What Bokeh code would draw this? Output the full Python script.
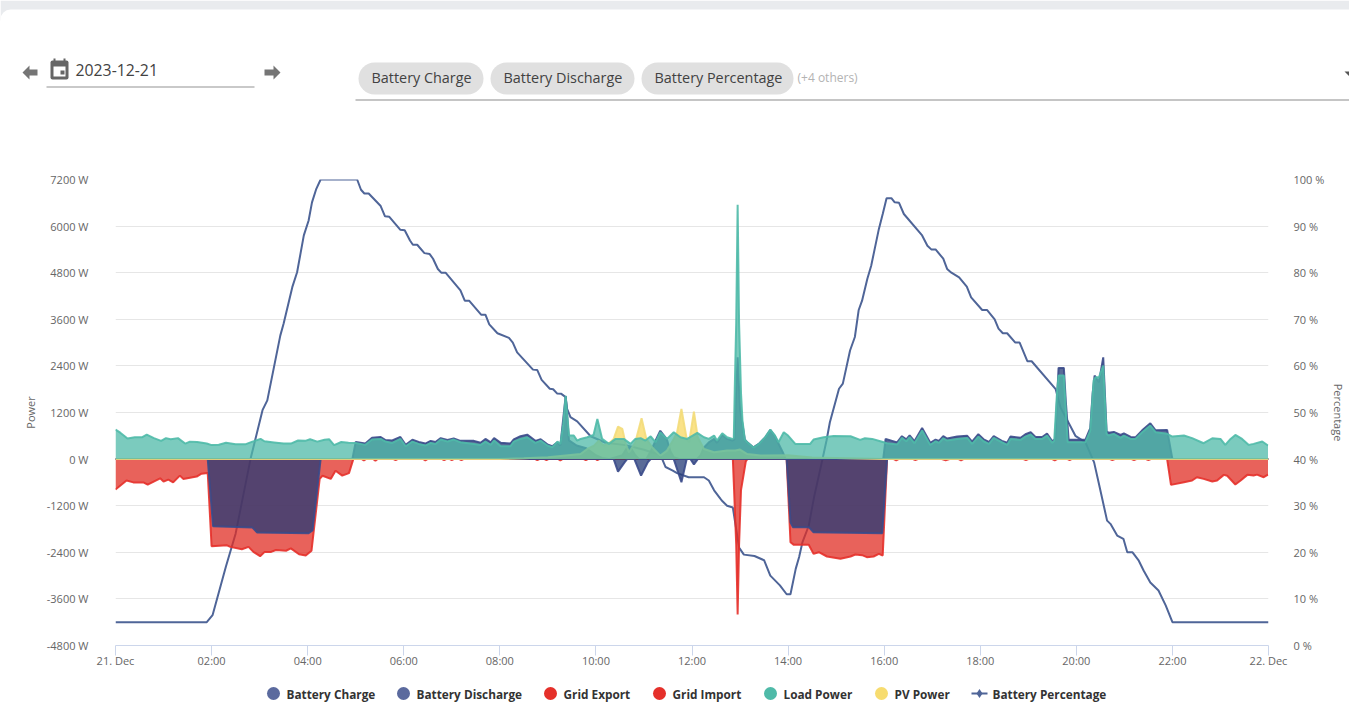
from bokeh.plotting import figure
from bokeh.layouts import column
from bokeh.models import (Range1d, LinearAxis, FixedTicker, BoxAnnotation, PolyAnnotation, Label)
from bokeh.embed import file_html
from bokeh.resources import INLINE

# ---------- data (hours since midnight, W / %) ----------
pct_t = [0, 1.9, 2.02, 2.3, 2.5, 2.81, 3.06, 3.16, 3.43, 3.5, 3.68, 3.78, 3.92, 4.02, 4.09, 4.18, 4.27, 5.03, 5.11, 5.18, 5.27, 5.52, 5.61, 5.7, 5.93, 6.02, 6.13, 6.19, 6.28, 6.43, 6.54, 6.61, 6.71, 6.78, 6.87, 7.18, 7.27, 7.36, 7.61, 7.7, 7.78, 7.95, 8.19, 8.27, 8.36, 8.69, 8.78, 8.87, 9.04, 9.11, 9.19, 9.28, 9.37, 9.4, 9.47, 9.61, 9.89, 10.2, 10.62, 11.0, 11.3, 11.38, 11.45, 11.59, 11.69, 11.93, 12.25, 12.35, 12.46, 12.59, 12.63, 12.73, 12.85, 12.98, 13.08, 13.3, 13.5, 13.63, 13.83, 13.97, 14.05, 14.16, 14.23, 14.3, 14.43, 14.54, 14.71, 14.8, 14.87, 15.06, 15.14, 15.29, 15.39, 15.47, 15.54, 15.65, 15.73, 15.89, 15.97, 16.05, 16.15, 16.22, 16.31, 16.41, 16.79, 16.9, 16.98, 17.07, 17.23, 17.31, 17.4, 17.56, 17.72, 17.81, 18.04, 18.14, 18.3, 18.38, 18.47, 18.56, 18.73, 18.82, 18.98, 19.07, 19.57, 19.67, 19.88, 19.98, 20.19, 20.37, 20.47, 20.64, 20.71, 20.85, 20.98, 21.06, 21.17, 21.3, 21.4, 21.54, 21.71, 21.86, 22.0, 24]
pct_v = [5, 5, 6.5, 17, 24, 40, 50.5, 52.6, 66.5, 69.1, 76.9, 80.1, 88, 91.2, 95.1, 98, 100, 100, 97.8, 97, 97, 94.3, 92.1, 92, 89.2, 89.1, 86.9, 86, 86, 84.2, 84, 83, 80.8, 80, 80, 76.2, 74, 74, 71, 71, 68.9, 67, 66, 65, 62.9, 59.2, 59.1, 57, 55.1, 55, 54.1, 54, 53.3, 50.8, 49, 48.1, 44.9, 43.5, 43, 42, 41, 40, 38.3, 37.6, 37, 36.1, 36.1, 35.4, 33.3, 31.5, 31, 30, 29.6, 21, 19.5, 19.2, 18.3, 15, 12.9, 11, 11, 16.5, 19, 22.2, 25.7, 31.8, 39.7, 44, 47.9, 55.1, 56.2, 63.3, 66.2, 72, 74, 78.7, 81.5, 89.4, 92.6, 96, 96, 95.1, 95, 92.6, 88, 85.8, 85, 85, 83, 80.8, 80, 79, 77, 74.7, 72, 72, 70, 68, 67, 67, 65, 65, 61, 61, 55, 51.1, 47, 45, 43.6, 39.3, 34.7, 26.8, 26.1, 23.6, 22.9, 20, 20, 18.2, 16.1, 13.5, 11.8, 8.6, 5, 5]

charge_t = [0, 1.92, 2.03, 2.85, 2.95, 4.02, 4.1, 4.27, 10.37, 10.46, 10.6, 10.65, 10.8, 10.94, 11.08, 11.14, 11.62, 11.78, 11.89, 11.97, 12.04, 12.12, 13.97, 14.05, 14.1, 14.43, 14.53, 15.96, 16.06, 24]
charge_v = [0, 0, -1730, -1764, -1893, -1910, -1840, 0, 0, -321, -80, 0, 0, -425, -80, 0, 0, -596, 0, 0, -140, 0, 0, -1625, -1753, -1753, -1882, -1908, 0, 0]

discharge_t = [0, 4.93, 5.0, 5.2, 5.34, 5.52, 5.62, 5.76, 5.93, 6.04, 6.18, 6.31, 6.45, 6.56, 6.66, 6.77, 6.91, 7.04, 7.18, 7.46, 7.6, 7.7, 7.81, 7.88, 8.02, 8.22, 8.29, 8.43, 8.57, 8.74, 8.85, 8.99, 9.09, 9.2, 9.26, 9.37, 9.44, 9.6, 9.8, 10.0, 10.13, 10.27, 10.55, 10.65, 10.72, 10.82, 10.9, 11.05, 11.14, 11.25, 11.34, 11.48, 11.55, 11.62, 11.75, 12.1, 12.18, 12.25, 12.35, 12.46, 12.52, 12.63, 12.73, 12.84, 12.88, 12.92, 12.95, 13.0, 13.05, 13.1, 13.15, 13.28, 13.4, 13.52, 13.63, 13.72, 13.8, 13.9, 13.95, 15.98, 16.03, 16.27, 16.37, 16.46, 16.53, 16.63, 16.79, 16.96, 17.07, 17.14, 17.23, 17.31, 17.52, 17.73, 17.83, 17.96, 18.07, 18.18, 18.28, 18.45, 18.56, 18.63, 18.84, 18.94, 19.05, 19.15, 19.29, 19.39, 19.5, 19.56, 19.63, 19.74, 19.78, 19.84, 20.19, 20.29, 20.34, 20.38, 20.47, 20.56, 20.63, 20.67, 20.78, 20.92, 20.99, 21.13, 21.23, 21.37, 21.54, 21.65, 21.89, 22.0, 24]
discharge_v = [0, 0, 440, 400, 550, 570, 490, 480, 570, 370, 500, 440, 400, 470, 440, 540, 490, 530, 470, 470, 420, 520, 430, 540, 420, 400, 510, 590, 630, 470, 510, 380, 330, 430, 350, 1620, 480, 350, 280, 100, 30, 0, 100, 300, 300, 100, 0, 0, 200, 500, 730, 500, 200, 50, 0, 0, 100, 300, 430, 520, 420, 620, 520, 480, 500, 1800, 2620, 1300, 900, 500, 430, 300, 400, 550, 750, 600, 400, 150, 0, 0, 520, 430, 590, 510, 610, 460, 800, 420, 500, 470, 590, 530, 580, 600, 450, 640, 510, 440, 590, 470, 420, 580, 550, 640, 690, 570, 570, 660, 460, 520, 2348, 2348, 1500, 500, 500, 800, 1700, 2150, 1980, 2620, 720, 680, 700, 620, 660, 570, 560, 740, 920, 740, 752, 0, 0]

grid_export_t = [0, 24]
grid_export_v = [0, 0]

grid_t = [0, 0.23, 0.37, 0.58, 0.67, 0.93, 1.0, 1.1, 1.2, 1.34, 1.41, 1.69, 1.79, 1.92, 2.0, 2.32, 2.39, 2.63, 2.77, 2.87, 3.01, 3.1, 3.24, 3.34, 3.55, 3.65, 3.82, 3.96, 4.08, 4.25, 4.31, 4.48, 4.58, 4.72, 4.86, 4.95, 5.13, 5.17, 5.21, 5.37, 5.41, 5.45, 5.79, 5.83, 5.87, 6.41, 6.45, 6.49, 6.8, 6.84, 6.88, 6.96, 7.0, 7.04, 7.16, 7.2, 7.24, 8.74, 8.78, 8.82, 8.93, 8.97, 9.01, 9.22, 9.26, 9.3, 9.75, 9.79, 9.83, 10.0, 10.03, 10.07, 12.85, 12.87, 12.92, 12.95, 12.98, 13.02, 13.07, 13.12, 13.15, 13.97, 14.05, 14.12, 14.43, 14.53, 14.64, 14.81, 15.09, 15.3, 15.4, 15.54, 15.64, 15.78, 15.89, 15.97, 16.06, 16.2, 16.25, 16.3, 16.6, 16.65, 16.7, 17.2, 17.28, 17.36, 17.55, 17.6, 17.65, 18.9, 18.95, 19.0, 19.5, 19.55, 19.6, 19.82, 19.86, 19.9, 20.7, 20.75, 20.8, 21.15, 21.2, 21.25, 21.45, 21.5, 21.55, 21.89, 21.97, 22.24, 22.41, 22.51, 22.65, 22.83, 22.93, 23.07, 23.14, 23.31, 23.42, 23.56, 23.69, 23.76, 23.9, 23.99]
grid_v = [-785, -553, -600, -600, -660, -495, -580, -530, -600, -425, -510, -450, -375, -360, -2245, -2220, -2260, -2320, -2260, -2390, -2500, -2395, -2390, -2340, -2360, -2300, -2450, -2480, -2360, -510, -430, -510, -300, -425, -360, 0, 0, -35, 0, 0, -40, 0, 0, -30, 0, 0, -35, 0, 0, -30, 0, 0, -25, 0, 0, -30, 0, 0, -30, 0, 0, -25, 0, 0, -35, 0, 0, -30, 0, 0, -25, 0, 0, -600, -2200, -4000, -2200, -800, -430, -60, 0, 0, -2140, -2208, -2208, -2440, -2397, -2508, -2568, -2508, -2457, -2474, -2526, -2508, -2440, -2483, 0, 0, -30, 0, 0, -25, 0, 0, -30, 0, 0, -30, 0, 0, -25, 0, 0, -30, 0, 0, -25, 0, 0, -25, 0, 0, -25, 0, 0, -25, 0, 0, -664, -595, -552, -466, -509, -578, -552, -406, -430, -655, -552, -406, -420, -400, -466, -398]

load_t = [0, 0.1, 0.25, 0.4, 0.55, 0.65, 0.8, 0.95, 1.05, 1.15, 1.3, 1.45, 1.55, 1.7, 1.9, 2.0, 2.15, 2.3, 2.5, 2.7, 2.85, 3.02, 3.1, 3.3, 3.5, 3.65, 3.8, 3.95, 4.05, 4.2, 4.35, 4.45, 4.55, 4.7, 4.85, 5.0, 5.2, 5.34, 5.52, 5.62, 5.76, 5.93, 6.04, 6.18, 6.31, 6.45, 6.56, 6.66, 6.77, 6.91, 7.04, 7.18, 7.46, 7.6, 7.7, 7.81, 7.88, 8.02, 8.22, 8.29, 8.43, 8.57, 8.74, 8.85, 8.99, 9.09, 9.2, 9.26, 9.32, 9.37, 9.44, 9.54, 9.61, 9.68, 9.82, 9.95, 10.03, 10.13, 10.27, 10.41, 10.58, 10.72, 10.82, 10.93, 11.03, 11.14, 11.24, 11.34, 11.48, 11.62, 11.76, 11.9, 12.11, 12.25, 12.35, 12.46, 12.52, 12.63, 12.73, 12.84, 12.87, 12.89, 12.92, 12.95, 12.98, 13.02, 13.05, 13.1, 13.15, 13.28, 13.4, 13.52, 13.63, 13.72, 13.8, 13.91, 14.0, 14.15, 14.46, 14.53, 14.74, 14.95, 15.3, 15.5, 15.6, 15.75, 15.92, 16.06, 16.27, 16.37, 16.46, 16.53, 16.63, 16.79, 16.96, 17.07, 17.14, 17.23, 17.31, 17.52, 17.73, 17.83, 17.96, 18.07, 18.18, 18.28, 18.45, 18.56, 18.63, 18.84, 18.94, 19.05, 19.15, 19.29, 19.39, 19.5, 19.54, 19.6, 19.63, 19.74, 19.77, 19.82, 20.19, 20.29, 20.36, 20.4, 20.47, 20.56, 20.63, 20.67, 20.78, 20.92, 20.99, 21.13, 21.23, 21.37, 21.54, 21.65, 21.89, 22.0, 22.24, 22.41, 22.65, 22.83, 23.0, 23.1, 23.21, 23.31, 23.45, 23.59, 23.69, 23.87, 23.99]
load_v = [760, 680, 530, 560, 560, 630, 540, 470, 540, 510, 540, 400, 450, 440, 400, 360, 370, 420, 380, 380, 450, 520, 460, 430, 400, 400, 480, 470, 510, 450, 500, 510, 360, 440, 420, 415, 366, 503, 520, 452, 417, 520, 331, 451, 391, 349, 417, 391, 503, 452, 503, 434, 391, 366, 451, 366, 477, 331, 331, 451, 520, 563, 417, 477, 349, 306, 451, 391, 900, 1630, 606, 606, 477, 520, 562, 620, 1034, 520, 391, 520, 520, 391, 520, 540, 477, 588, 434, 691, 520, 691, 562, 520, 674, 562, 520, 605, 477, 665, 562, 520, 540, 1800, 3500, 6550, 3500, 1700, 1000, 500, 433, 296, 400, 560, 760, 620, 433, 690, 606, 392, 392, 503, 563, 597, 589, 495, 537, 520, 460, 409, 375, 546, 460, 563, 409, 735, 366, 460, 417, 537, 477, 520, 546, 392, 580, 460, 392, 546, 434, 366, 520, 495, 580, 632, 520, 520, 606, 417, 477, 1764, 2150, 2150, 1507, 435, 435, 735, 2022, 2108, 2108, 2408, 650, 606, 650, 546, 606, 520, 520, 692, 863, 692, 650, 580, 606, 540, 409, 537, 520, 366, 520, 623, 520, 366, 392, 452, 349]

pv_t = [0, 8.0, 8.5, 9.0, 9.47, 9.68, 9.82, 9.96, 10.06, 10.16, 10.3, 10.37, 10.46, 10.55, 10.62, 10.69, 10.82, 10.95, 11.05, 11.17, 11.34, 11.48, 11.62, 11.69, 11.78, 11.89, 11.94, 12.04, 12.12, 12.25, 12.46, 12.73, 12.9, 13.0, 13.15, 13.43, 14.0, 14.5, 15.0, 16.0, 24]
pv_v = [0, 5, 20, 50, 108, 130, 262, 348, 477, 348, 434, 520, 837, 777, 391, 176, 434, 1052, 520, 305, 90, 219, 520, 691, 1290, 520, 434, 1223, 562, 262, 176, 219, 219, 245, 130, 90, 100, 40, 30, 0, 0]

y_ticks = [-4800, -3600, -2400, -1200, 0, 1200, 2400, 3600, 4800, 6000, 7200]
pct_ticks = [0, 10, 20, 30, 40, 50, 60, 70, 80, 90, 100]
x_ticks = [0, 2, 4, 6, 8, 10, 12, 14, 16, 18, 20, 22, 24]
x_labels = ["21. Dec", "02:00", "04:00", "06:00", "08:00", "10:00", "12:00", "14:00", "16:00", "18:00", "20:00", "22:00", "22. Dec"]

legend_names = ["Battery Charge", "Battery Discharge", "Grid Export", "Grid Import", "Load Power", "PV Power", "Battery Percentage"]
legend_colors = ["#5b6a9e", "#5b6a9e", "#e5302a", "#e5302a", "#4fbaa8", "#f7dc6f", "#4f6598"]
legend_mark_x = [273, 403, 550, 659, 770, 881, 979]
legend_text_x = [286, 416, 563, 672, 783, 894, 992]
chips = ["Battery Charge", "Battery Discharge", "Battery Percentage"]
chip_left = [358, 490, 641]
chip_right = [483, 634, 793]

FONT = "Open Sans"
GREY = "#666666"


def strip_figure(height, y0, y1):
    """A figure whose data coordinates are the page's own pixels."""
    f = figure(width=1349, height=height, output_backend="svg", toolbar_location=None,
               x_range=Range1d(0, 1349), y_range=Range1d(y1, y0), min_border=0, frame_align=False,
               outline_line_color=None, background_fill_color="white", border_fill_color="white")
    f.axis.visible = False
    f.grid.visible = False
    return f


def box(f, x0, y0, x1, y1, color, radius=0):
    f.add_layout(BoxAnnotation(left=x0, right=x1, top=y0, bottom=y1, fill_color=color, fill_alpha=1,
                               line_color=None, border_radius=radius))


def poly(f, xs, ys, color):
    f.add_layout(PolyAnnotation(xs=xs, ys=ys, fill_color=color, fill_alpha=1, line_color=None))


def text(f, x, y, s, size, color, style="normal"):
    f.add_layout(Label(x=x, y=y, text=s, text_font=FONT, text_font_size=size, text_color=color,
                       text_font_style=style, text_baseline="middle"))


# ---------- top strip: page band, date picker, chips ----------
top = strip_figure(170, 0, 170)
box(top, 0, 0, 1349, 20, "#e9ebee")
box(top, 0, 9, 1349, 40, "#ffffff", (10, 0, 0, 0))
poly(top, [22, 29, 29, 37, 37, 29, 29], [72, 65, 69, 69, 75, 75, 79], "#757575")
poly(top, [280, 273, 273, 264, 264, 273, 273], [72, 65, 69, 69, 75, 75, 79], "#757575")
box(top, 50, 60, 68, 79, "#666666", 2)
box(top, 53, 66, 65, 76, "#ffffff")
box(top, 60, 70, 64, 74, "#666666")
box(top, 53, 58, 55, 62, "#666666")
box(top, 63, 58, 65, 62, "#666666")
text(top, 75, 69, "2023-12-21", "15.8px", "#424242")
box(top, 46, 86, 254, 87, "#949494")
for name, a, b in zip(chips, chip_left, chip_right):
    box(top, a, 62, b, 94, "#e0e0e0", 16)
    text(top, a + 13, 76.5, name, "14.4px", "#424242")
text(top, 797, 77, "(+4 others)", "12px", "#b3b3b3")
box(top, 355, 99, 1349, 100, "#8c8c8c")
poly(top, [1344, 1349, 1349], [71, 71, 76], "#555555")

# ---------- main chart ----------
p = figure(width=1349, height=505, output_backend="svg", toolbar_location=None,
           x_range=Range1d(0, 24), y_range=Range1d(-4800, 7200), frame_align=False,
           min_border_left=115, min_border_right=81, min_border_top=9, min_border_bottom=30,
           outline_line_color=None, background_fill_color="white", border_fill_color="white")
p.extra_y_ranges = {"pct": Range1d(0, 100)}

ax = p.xaxis[0]
ax.ticker = FixedTicker(ticks=x_ticks)
ax.major_label_overrides = {t: l for t, l in zip(x_ticks, x_labels)}
ax.axis_line_color = "#ccd6eb"
ax.major_tick_line_color = "#ccd6eb"
ax.major_tick_out = 10
ax.major_tick_in = 0
ax.minor_tick_line_color = None
ax.major_label_text_font = FONT
ax.major_label_text_font_size = "11px"
ax.major_label_text_color = GREY
ax.major_label_standoff = -3

ay = p.yaxis[0]
ay.ticker = FixedTicker(ticks=y_ticks)
ay.major_label_overrides = {t: f"{t} W" for t in y_ticks}
ay.axis_line_color = None
ay.major_tick_line_color = None
ay.major_tick_in = 0
ay.major_tick_out = 0
ay.minor_tick_line_color = None
ay.major_label_text_font = FONT
ay.major_label_text_font_size = "11px"
ay.major_label_text_color = GREY
ay.major_label_standoff = 27
ay.axis_label = "Power"
ay.axis_label_text_font = FONT
ay.axis_label_text_font_size = "11px"
ay.axis_label_text_font_style = "normal"
ay.axis_label_text_color = GREY
ay.axis_label_standoff = 6

ar = LinearAxis(y_range_name="pct", ticker=FixedTicker(ticks=pct_ticks))
ar.major_label_overrides = {t: f"{t} %" for t in pct_ticks}
ar.axis_line_color = None
ar.major_tick_line_color = None
ar.major_tick_in = 0
ar.major_tick_out = 0
ar.minor_tick_line_color = None
ar.major_label_text_font = FONT
ar.major_label_text_font_size = "11px"
ar.major_label_text_color = GREY
ar.major_label_standoff = 25
ar.axis_label = "Percentage"
ar.axis_label_text_font = FONT
ar.axis_label_text_font_size = "11px"
ar.axis_label_text_font_style = "normal"
ar.axis_label_text_color = GREY
ar.axis_label_standoff = 4
p.add_layout(ar, "right")

p.xgrid.visible = False
p.ygrid[0].ticker = FixedTicker(ticks=y_ticks)
p.ygrid[0].grid_line_color = "#e6e6e6"

p.line(pct_t, pct_v, y_range_name="pct", line_color="#4f6598", line_width=2)


def area(t, v, fill, line):
    p.varea(t, [0] * len(t), v, fill_color=fill, fill_alpha=0.75)
    p.line(t, v, line_color=line, line_width=2, line_alpha=0.9)


area(grid_t, grid_v, "#e02e24", "#e5302a")
area(grid_export_t, grid_export_v, "#e02e24", "#e5302a")
area(charge_t, charge_v, "#233976", "#3a4a8a")
area(discharge_t, discharge_v, "#233976", "#3a4a8a")
area(pv_t, pv_v, "#f8d862", "#f3dc7a")
area(load_t, load_v, "#4fbaa8", "#4fbaa8")

# ---------- legend strip ----------
leg = strip_figure(27, 675, 702)
for name, color, mx, tx in zip(legend_names[:-1], legend_colors, legend_mark_x, legend_text_x):
    leg.scatter([mx], [693], marker="circle", size=13, fill_color=color, line_color=None)
    text(leg, tx, 693, name, "11.8px", "#333333", "bold")
mx = legend_mark_x[-1]
leg.line([mx - 8, mx + 8], [693, 693], line_color=legend_colors[-1], line_width=2)
leg.scatter([mx], [693], marker="diamond", size=9, fill_color=legend_colors[-1], line_color=None)
text(leg, legend_text_x[-1], 693, legend_names[-1], "11.8px", "#333333", "bold")

page = column(top, p, leg, spacing=0)
open("out.html", "w").write(file_html(page, INLINE))
